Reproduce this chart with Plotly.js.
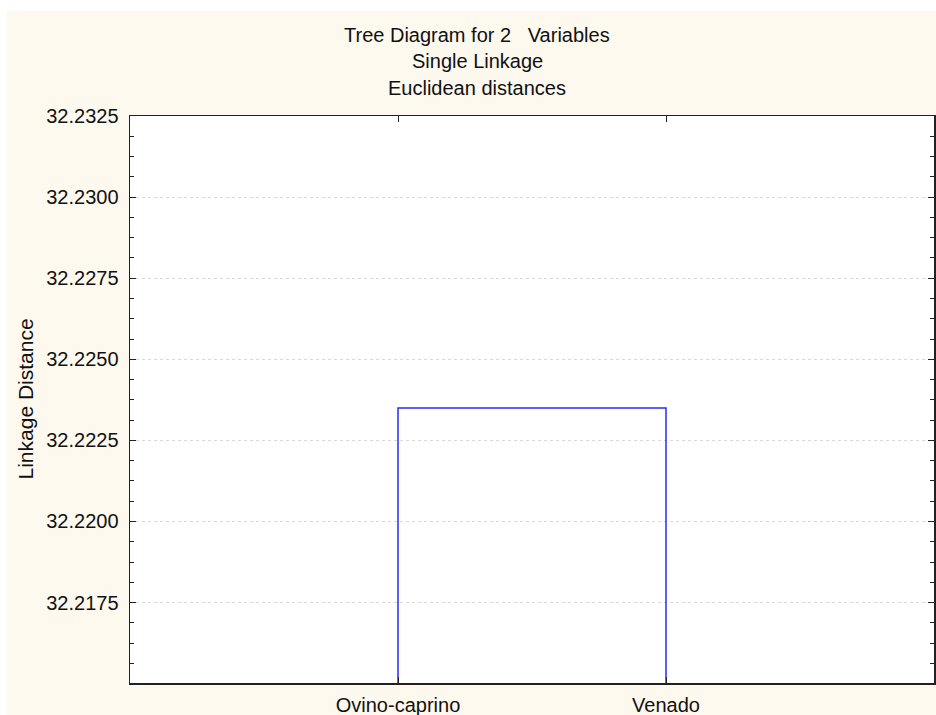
<!DOCTYPE html>
<html>
<head>
<meta charset="utf-8">
<script src="https://cdn.plot.ly/plotly-3.0.1.min.js"></script>
<style>
html,body{margin:0;padding:0;background:#ffffff;}
#chart{position:absolute;left:7px;top:11px;width:929px;height:704px;}
</style>
</head>
<body>
<div id="chart"></div>
<script>
// Data
const leafLabels = ["Ovino-caprino", "Venado"];
const leafPositions = [1, 2];
const leafHeights = [0, 0];
const mergeHeights = [32.2235];
const titleLines = ["Tree Diagram for 2   Variables", "Single Linkage", "Euclidean distances"];
const yTitle = "Linkage Distance";
const yRange = [32.21502, 32.2325];

const xs = [leafPositions[0], leafPositions[0], leafPositions[1], leafPositions[1]];
const ys = [leafHeights[0], mergeHeights[0], mergeHeights[0], leafHeights[1]];

const fam = "Liberation Sans, Arial, sans-serif";
const font = {family: fam, size: 20, color: "#111"};

const titleY = [24, 50, 77]; // px from top of div
const H = 704, mt = 105, mb = 32, plotH = H - mt - mb;
const annotations = titleLines.map((t, i) => ({
  text: t, xref: "paper", yref: "paper", x: (470 - 123) / 804, xanchor: "center",
  y: 1 + (mt - titleY[i]) / plotH, yanchor: "middle", showarrow: false,
  font: {family: fam, size: 20, color: "#111"}
}));
annotations.push({
  text: yTitle, xref: "paper", yref: "paper", textangle: -90,
  x: (18 - 123) / 804, xanchor: "center", y: 0.5, yanchor: "middle",
  showarrow: false, font: {family: fam, size: 21, color: "#111"}
});

Plotly.newPlot("chart", [{
  type: "scatter",
  mode: "lines",
  x: xs,
  y: ys,
  line: {color: "#2a2aff", width: 1.5},
  hoverinfo: "skip",
  showlegend: false
}], {
  width: 929,
  height: H,
  paper_bgcolor: "#fdf9ef",
  plot_bgcolor: "#ffffff",
  font: font,
  margin: {l: 123, r: 2, t: mt, b: mb},
  annotations: annotations,
  xaxis: {
    range: [0, 3],
    tickmode: "array",
    tickvals: leafPositions,
    ticktext: leafLabels,
    ticks: "inside",
    ticklen: 6,
    tickcolor: "#222",
    showgrid: false,
    zeroline: false,
    showline: true,
    linecolor: "#222",
    linewidth: 1.5,
    mirror: "allticks",
    tickfont: font,
    ticklabelstandoff: 3
  },
  yaxis: {
    range: yRange,
    tick0: 32.2175,
    dtick: 0.0025,
    tickformat: ".4f",
    ticks: "inside",
    ticklen: 6,
    tickcolor: "#222",
    showgrid: true,
    gridcolor: "#d8d8d8",
    griddash: "dot",
    gridwidth: 1,
    zeroline: false,
    showline: true,
    linecolor: "#222",
    linewidth: 1.5,
    mirror: "allticks",
    minor: {dtick: 0.000625, ticks: "inside", ticklen: 4, tickcolor: "#222", showgrid: false},
    tickfont: font,
    ticklabelstandoff: 6
  }
}, {displayModeBar: false, staticPlot: true});
</script>
</body>
</html>
